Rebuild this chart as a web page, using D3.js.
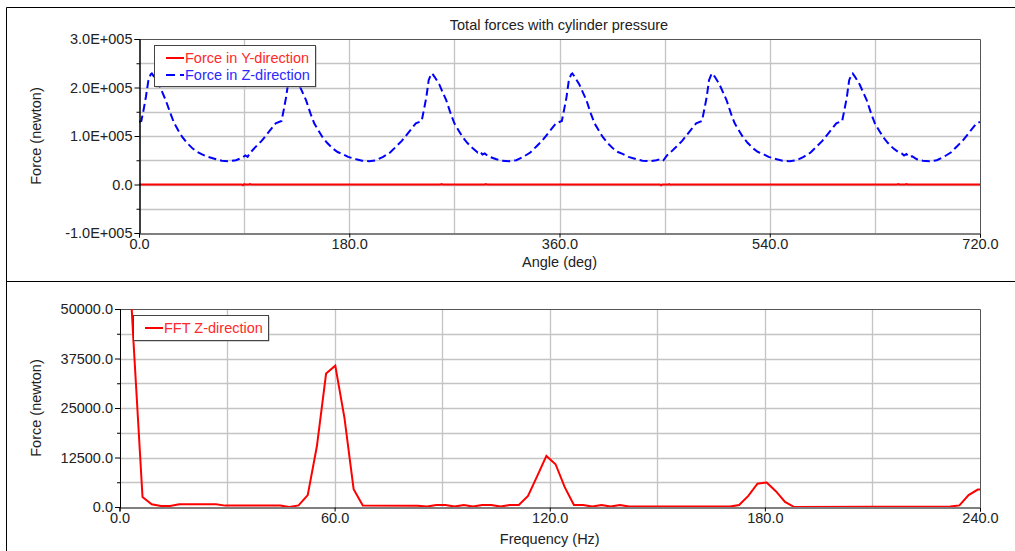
<!DOCTYPE html>
<html>
<head>
<meta charset="utf-8">
<script src="https://cdn.jsdelivr.net/npm/d3@7/dist/d3.min.js"></script>
<style>
  body { margin: 0; background: #fff; }
  text { font-family: "Liberation Sans", Arial, sans-serif; font-size: 14.5px; fill: #222; }
</style>
</head>
<body>
<svg id="chart"></svg>
<script>
const width = 1015;
const height = 551;

// top panel: [angle deg, force N]
const forceY = [
  [0, 0], [88, 0], [89, -1500], [90, 600], [91, 0], [94, 0], [95, 900], [96, 0],
  [258, 0], [259, 800], [260, 0], [296, 0], [297, 900], [298, 0],
  [446, 0], [447, -1500], [448, 0], [453, 0], [454, 1000], [455, -600], [456, 0],
  [649, 0], [650, 1000], [651, 0], [656, 0], [657, 1000], [658, 0], [720, 0]
];

const forceZ = [
  [0, 129000], [2, 131000], [4, 155000], [6, 182000], [8, 214000], [10, 227000], [11, 229000],
  [13, 222000], [17, 205000], [20, 190000], [23, 173000], [27, 146000], [30, 127000], [34, 110000],
  [37, 98000], [41, 86000], [46, 74000], [50, 67000], [54, 62000], [59, 57000], [66, 52000],
  [71, 49000], [77, 48000],
  [83, 50000], [89, 56000], [91, 60000], [93, 57000], [95, 65000], [100, 78000], [105, 90000],
  [109, 102000], [113, 114000], [117, 126000], [122, 131000], [124, 155000], [126, 181000],
  [128, 214000], [130, 227000], [131, 229000], [133, 222000], [137, 206000], [140, 190000],
  [143, 174000], [147, 145000], [150, 126000], [154, 110000], [157, 98000], [161, 86000],
  [166, 74000], [170, 67000], [174, 63000], [179, 57000], [186, 52000], [191, 49000], [197, 48000],
  [203, 50000], [209, 57000], [215, 66000], [220, 78000], [225, 90000], [229, 102000],
  [233, 114000], [237, 126000], [242, 131000], [244, 155000], [246, 180000], [248, 215000],
  [250, 227000], [251, 229000], [253, 222000], [257, 207000], [260, 190000], [263, 174000],
  [267, 145000], [270, 126000], [274, 110000], [277, 98000], [281, 86000], [286, 74000],
  [290, 66000], [292, 68000], [294, 62000], [296, 64000], [299, 58000], [306, 52000],
  [311, 49000], [317, 48000],
  [323, 50000], [329, 57000], [335, 66000], [340, 78000], [345, 90000], [349, 102000],
  [353, 114000], [357, 126000], [362, 131000], [364, 155000], [366, 180000], [368, 215000],
  [370, 227000], [371, 229000], [373, 222000], [377, 206000], [380, 190000], [383, 174000],
  [387, 145000], [390, 126000], [394, 110000], [397, 98000], [401, 86000], [406, 74000],
  [410, 67000], [414, 63000], [419, 57000], [426, 52000], [431, 49000], [437, 48000],
  [443, 50000], [447, 53000], [449, 50000], [452, 60000], [455, 66000], [460, 78000],
  [465, 90000], [469, 102000], [473, 114000], [477, 126000], [482, 131000], [484, 155000],
  [486, 180000], [488, 215000], [490, 227000], [491, 229000], [493, 222000], [497, 206000],
  [500, 190000], [503, 174000], [507, 145000], [510, 126000], [514, 110000], [517, 98000],
  [521, 86000], [526, 74000], [530, 67000], [534, 63000], [539, 57000], [546, 52000],
  [551, 49000], [557, 48000],
  [563, 50000], [569, 57000], [575, 66000], [580, 78000], [585, 90000], [589, 102000],
  [593, 114000], [597, 126000], [602, 131000], [604, 155000], [606, 180000], [608, 215000],
  [610, 227000], [611, 229000], [613, 222000], [617, 206000], [620, 190000], [623, 174000],
  [627, 145000], [630, 126000], [634, 110000], [637, 98000], [641, 86000], [646, 74000],
  [650, 67000], [653, 64000], [655, 60000], [657, 63000], [659, 57000], [662, 58000],
  [666, 52000], [671, 49000], [677, 48000],
  [683, 50000], [689, 57000], [695, 66000], [700, 78000], [705, 90000], [709, 102000],
  [713, 114000], [717, 126000], [720, 129000]
];

// bottom panel: [frequency Hz, amplitude N]
const fftZ = [
  [1.3, 85000], [3.86, 42400], [6.42, 2500], [8.98, 700], [11.54, 250], [14.1, 250],
  [16.66, 700], [26.9, 700], [29.46, 350], [44.82, 350], [47.38, 0], [49.94, 400],
  [52.5, 3000], [55.06, 15400], [57.62, 33700], [60.18, 35700], [62.74, 22500],
  [65.3, 4500], [67.86, 400], [83.22, 300], [85.78, 100], [88.34, 500], [90.9, 500],
  [93.46, 100], [96.02, 500], [98.58, 100], [101.14, 500], [103.7, 500], [106.26, 100],
  [108.82, 500], [111.38, 500], [113.94, 2800], [116.5, 7800], [119.06, 12900],
  [121.62, 10800], [124.18, 5000], [126.74, 500], [129.3, 500], [131.86, 100],
  [134.42, 500], [136.98, 100], [139.54, 500], [142.1, 100], [170.26, 100],
  [172.82, 500], [175.38, 2800], [177.94, 5900], [180.5, 6200], [183.06, 4000],
  [185.62, 1300], [188.18, 0], [231.7, 100], [234.26, 400], [236.82, 3000],
  [239.38, 4400], [241.94, 4600]
];

const angleTicks = [0, 180, 360, 540, 720];
const angleGrid = [90, 180, 270, 360, 450, 540, 630];
const forceTicks = [-100000, 0, 100000, 200000, 300000];
const forceMinor = [-50000, 50000, 150000, 250000];
const freqTicks = [0, 60, 120, 180, 240];
const freqGrid = [30, 60, 90, 120, 150, 180, 210];
const fftTicks = [0, 12500, 25000, 37500, 50000];
const fftMinor = [6250, 18750, 31250, 43750];

const svg = d3.select("#chart").attr("width", width).attr("height", height);

// panel frames
svg.append("path")
  .attr("d", "M6.5,551V7.5H1015M6.5,281.5H1015")
  .attr("fill", "none")
  .attr("stroke", "#000")
  .attr("stroke-width", 1);

function drawPanel(p) {
  const x = d3.scaleLinear().domain(p.xDomain).range(p.xRange);
  const y = d3.scaleLinear().domain(p.yDomain).range(p.yRange);
  const g = svg.append("g");
  const [x0, x1] = p.xRange;
  const [y0, y1] = p.yRange; // bottom, top

  // grid
  g.selectAll(".hgrid")
    .data(p.yMinor.concat(p.yTicks.slice(1, -1)))
    .enter()
    .append("line")
    .attr("x1", x0).attr("x2", x1)
    .attr("y1", (d) => Math.round(y(d)) + 0.5)
    .attr("y2", (d) => Math.round(y(d)) + 0.5)
    .attr("stroke", "#c4c4c4")
    .attr("stroke-width", 1.3);
  g.selectAll(".vgrid")
    .data(p.xGrid)
    .enter()
    .append("line")
    .attr("y1", y0).attr("y2", y1)
    .attr("x1", (d) => Math.round(x(d)) + 0.5)
    .attr("x2", (d) => Math.round(x(d)) + 0.5)
    .attr("stroke", "#c4c4c4")
    .attr("stroke-width", 1.3);

  // plot frame top/right
  g.append("path")
    .attr("d", `M${x0},${y1 + 0.5}H${x1 + 0.5}V${y0}`)
    .attr("fill", "none")
    .attr("stroke", "#555");

  const clipId = "clip" + p.id;
  svg.append("clipPath").attr("id", clipId)
    .append("rect")
    .attr("x", x0).attr("y", y1)
    .attr("width", x1 - x0).attr("height", y0 - y1);

  const line = d3.line().x((d) => x(d[0])).y((d) => y(d[1]));
  p.series.forEach((s) => {
    g.append("path")
      .datum(s.data)
      .attr("clip-path", `url(#${clipId})`)
      .attr("fill", "none")
      .attr("stroke", s.color)
      .attr("stroke-width", 2)
      .attr("stroke-dasharray", s.dash || null)
      .attr("d", line);
  });

  // axes
  const yAxis = d3.axisLeft(y).tickValues(p.yTicks).tickSize(5).tickPadding(2).tickFormat(p.yFormat);
  const ya = g.append("g").attr("transform", `translate(${x0 + 0.5},0)`).call(yAxis);
  const yMinorAxis = d3.axisLeft(y).tickValues(p.yMinor).tickSize(3).tickFormat("");
  const ym = g.append("g").attr("transform", `translate(${x0 + 0.5},0)`).call(yMinorAxis);
  const xAxis = d3.axisBottom(x).tickValues(p.xTicks).tickSize(4).tickPadding(1).tickFormat((d) => d.toFixed(1));
  const xa = g.append("g").attr("transform", `translate(0,${y0 + 0.5})`).call(xAxis);
  [ya, ym, xa].forEach((a) => {
    a.attr("font-family", null).attr("font-size", null);
    a.select(".domain").attr("stroke", "#000");
    a.selectAll(".tick line").attr("stroke", "#000");
    a.selectAll(".tick text").attr("fill", "#222");
  });

  // axis titles
  svg.append("text")
    .attr("x", (x0 + x1) / 2)
    .attr("y", p.xLabelY)
    .attr("text-anchor", "middle")
    .text(p.xLabel);
  svg.append("text")
    .attr("transform", `translate(41,${(y0 + y1) / 2}) rotate(-90)`)
    .attr("text-anchor", "middle")
    .text("Force (newton)");

  // legend
  const lg = svg.append("g").attr("transform", `translate(${p.legend.x},${p.legend.y})`);
  lg.append("rect")
    .attr("x", 1.5).attr("y", 1.5)
    .attr("width", p.legend.w).attr("height", p.legend.h)
    .attr("fill", "#aaa");
  lg.append("rect")
    .attr("x", 0.5).attr("y", 0.5)
    .attr("width", p.legend.w).attr("height", p.legend.h)
    .attr("fill", "#fff")
    .attr("stroke", "#444");
  p.series.forEach((s, i) => {
    const ly = 13 + i * 17;
    lg.append("line")
      .attr("x1", 12).attr("x2", 30)
      .attr("y1", ly).attr("y2", ly)
      .attr("stroke", s.color)
      .attr("stroke-width", 2)
      .attr("stroke-dasharray", s.dash ? "9,5" : null);
    lg.append("text")
      .attr("x", 31).attr("y", ly + 5)
      .style("fill", s.textColor)
      .text(s.name);
  });
}

const expFormat = (d) => (d === 0 ? "0.0" : (d / 100000).toFixed(1) + "E+005");

drawPanel({
  id: "top",
  xDomain: [0, 720], xRange: [139, 980],
  yDomain: [-100000, 300000], yRange: [233, 39],
  xTicks: angleTicks, xGrid: angleGrid,
  yTicks: forceTicks, yMinor: forceMinor, yFormat: expFormat,
  xLabel: "Angle (deg)", xLabelY: 267,
  legend: { x: 154, y: 45, w: 161, h: 41 },
  series: [
    { name: "Force in Y-direction", data: forceY, color: "#ff0000", textColor: "#ff2a2a" },
    { name: "Force in Z-direction", data: forceZ, color: "#0000ff", textColor: "#2a2aff", dash: "8,4" }
  ]
});

drawPanel({
  id: "bottom",
  xDomain: [0, 240], xRange: [119.5, 980],
  yDomain: [0, 50000], yRange: [507, 309],
  xTicks: freqTicks, xGrid: freqGrid,
  yTicks: fftTicks, yMinor: fftMinor, yFormat: (d) => d.toFixed(1),
  xLabel: "Frequency (Hz)", xLabelY: 544,
  legend: { x: 133, y: 315, w: 135, h: 25 },
  series: [
    { name: "FFT Z-direction", data: fftZ, color: "#ff0000", textColor: "#ff2a2a" }
  ]
});

// title
svg.append("text")
  .attr("x", 559)
  .attr("y", 30)
  .attr("text-anchor", "middle")
  .text("Total forces with cylinder pressure");
</script>
</body>
</html>
